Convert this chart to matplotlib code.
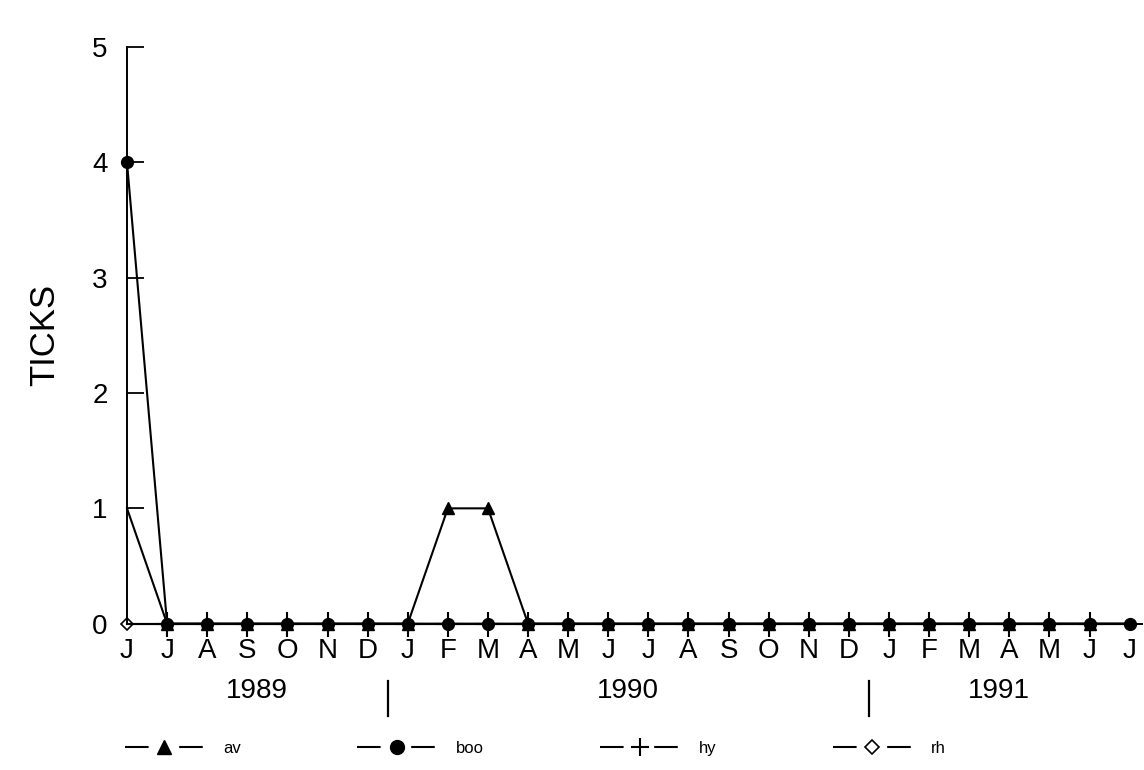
import matplotlib.pyplot as plt
from matplotlib.lines import Line2D

# Monthly samples, June 1989 .. July 1991
months = ["J", "J", "A", "S", "O", "N", "D",
          "J", "F", "M", "A", "M", "J", "J", "A", "S", "O", "N", "D",
          "J", "F", "M", "A", "M", "J", "J"]
years = ["1989", "1990", "1991"]
year_spans = [(0, 6.5), (6.5, 18.5), (18.5, 25)]

av = [1, 0, 0, 0, 0, 0, 0, 0, 1, 1, 0, 0, 0, 0, 0, 0, 0, 0, 0, 0, 0, 0, 0, 0, 0, 0]
boo = [4, 0, 0, 0, 0, 0, 0, 0, 0, 0, 0, 0, 0, 0, 0, 0, 0, 0, 0, 0, 0, 0, 0, 0, 0, 0]
hy = [0] * 26
rh = [0] * 26

x = list(range(len(months)))

plt.rcParams['font.family'] = ['Liberation Sans', 'DejaVu Sans']
plt.rcParams['lines.scale_dashes'] = False

fig = plt.figure(figsize=(11.44, 7.7), dpi=100, facecolor='white')
ax = fig.add_axes([0.111, 0.19, 0.887, 0.749])

k = 'black'
lw = 1.5
ax.plot(x, rh, color=k, lw=lw, marker='D', markersize=6, mfc='white', mec=k, mew=1.2,
        markevery=[0], clip_on=False)
ax.plot(x, av, color=k, lw=lw, marker='^', markersize=9,
        markevery=list(range(1, 25)), clip_on=False)
ax.plot(x, boo, color=k, lw=lw, marker='o', markersize=8.5,
        markevery=list(range(0, 26)), clip_on=False)
ax.plot(x, hy, color=k, lw=lw, marker='+', markersize=18, mew=1.5,
        markevery=list(range(1, 25)), clip_on=False)

ax.set_xlim(0, 25.3)
ax.set_ylim(0, 5)
ax.spines['top'].set_visible(False)
ax.spines['right'].set_visible(False)
ax.spines['left'].set_linewidth(1.4)
ax.spines['bottom'].set_linewidth(1.4)

ax.set_yticks(range(6))
ax.tick_params(axis='y', direction='in', length=12, width=1.3, labelsize=20, pad=14)
ax.set_xticks(x)
ax.set_xticklabels(months)
ax.tick_params(axis='x', length=0, labelsize=20, pad=10)
ax.set_ylabel("TICKS", fontsize=25, labelpad=22)

# year labels and separators below the month letters
for yr, (a, b) in zip(years, year_spans):
    ax.text((a + b) / 2, -0.58, yr, ha='center', va='center', fontsize=20, clip_on=False)
for sep in [6.5, 18.5]:
    ax.plot([sep, sep], [-0.5, -0.8], color=k, lw=1.6, clip_on=False)

# legend: short dash, marker, short dash
dash = dict(color=k, lw=lw, dashes=(17, 22))
handles = [
    Line2D([], [], marker='^', markersize=10, label='av', **dash),
    Line2D([], [], marker='o', markersize=10, label='boo', **dash),
    Line2D([], [], marker='+', markersize=13, mew=1.5, label='hy', **dash),
    Line2D([], [], marker='D', markersize=7, mfc='white', mew=1.2, label='rh', **dash),
]
fig.legend(handles=handles, loc='center', bbox_to_anchor=(0.468, 0.028), ncol=4,
           frameon=False, fontsize=12, handlelength=4.7, columnspacing=7.0, handletextpad=1.2)

fig.savefig('out.png', dpi=100, facecolor='white')
